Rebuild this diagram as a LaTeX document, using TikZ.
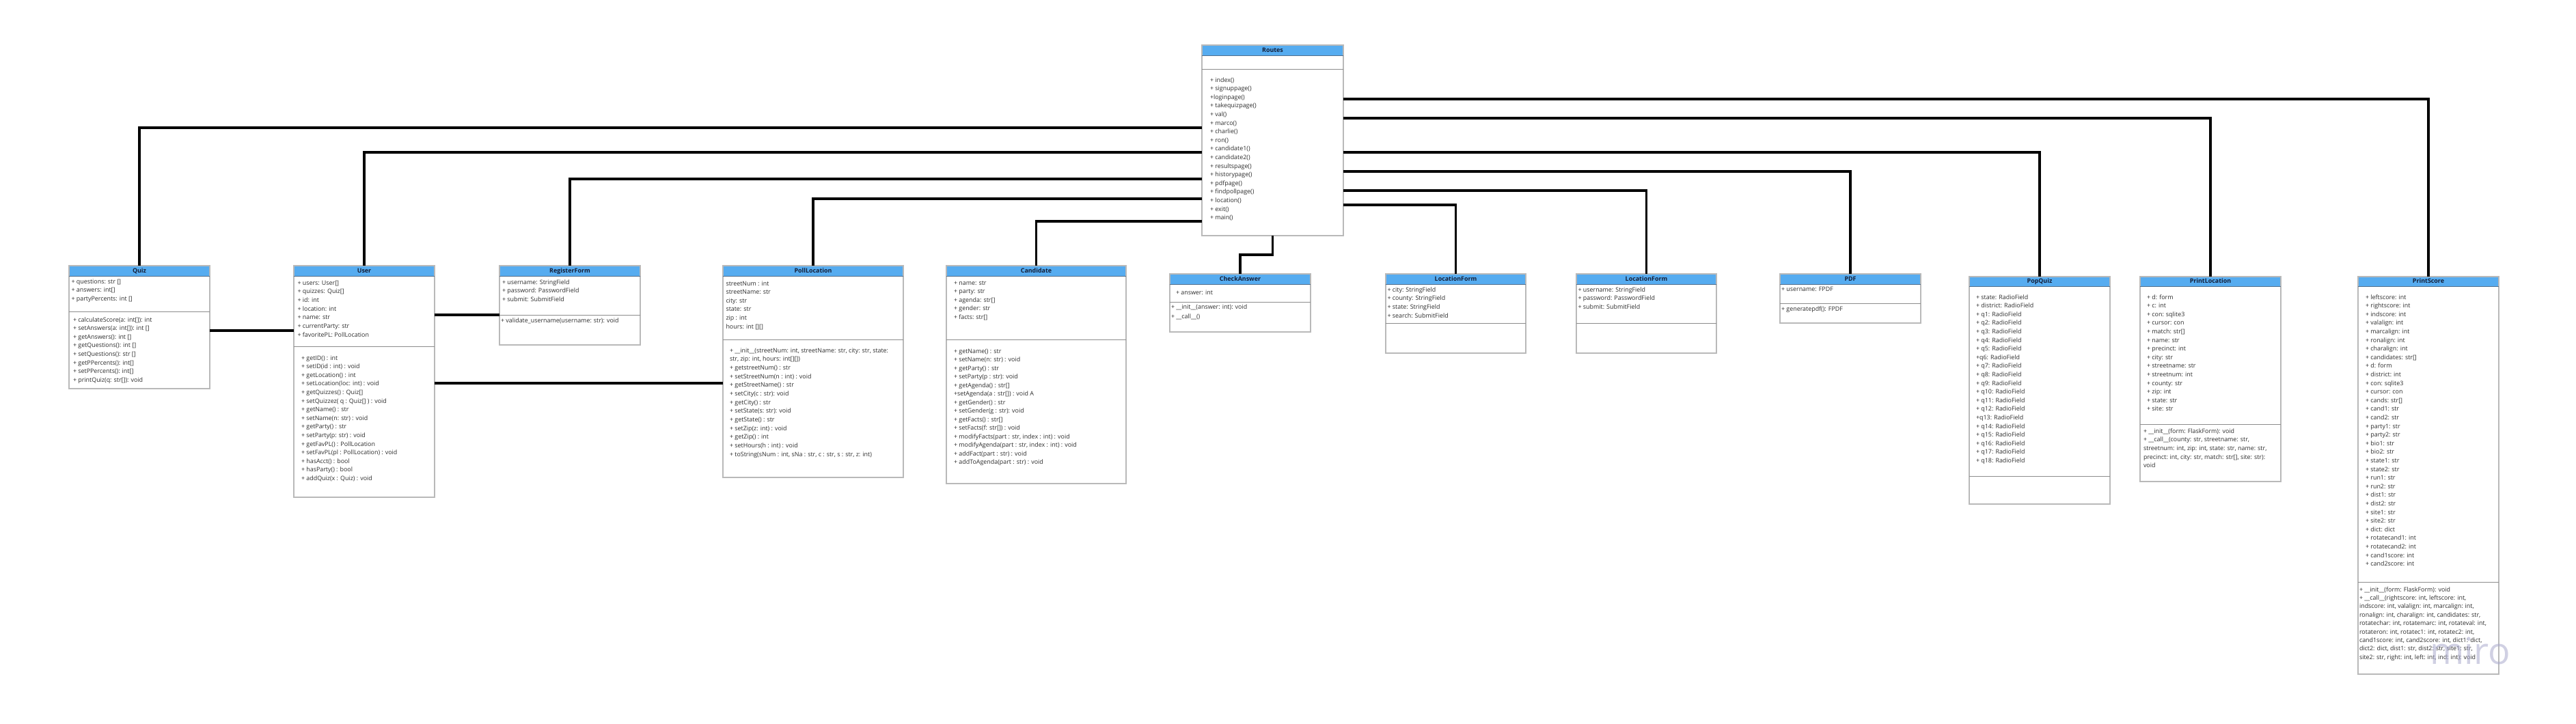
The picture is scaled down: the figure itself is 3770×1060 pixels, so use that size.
\documentclass[tikz,border=0pt]{standalone}
\usepackage{fontspec}
\setmainfont{Open Sans}
\usetikzlibrary{calc}
\definecolor{headblue}{RGB}{86,172,240}
\definecolor{headline}{RGB}{80,110,140}
\definecolor{boxline}{RGB}{185,185,185}
\definecolor{sepcol}{RGB}{140,140,140}
\definecolor{txtcol}{RGB}{45,45,45}
\definecolor{titlecol}{RGB}{20,30,55}
\definecolor{wmcol}{RGB}{170,170,205}
\tikzset{
  classbox/.style={draw=boxline, line width=1.3pt, inner sep=0pt, outer sep=0pt, rectangle},
  txt/.style={font=\fontsize{8.9}{10}\selectfont, text=txtcol, inner sep=0pt, outer sep=0pt},
  ttl/.style={font=\bfseries\fontsize{8.9}{10}\selectfont, text=titlecol, inner sep=0pt, outer sep=0pt},
  conn/.style={line width=3.5pt, black},
  sepl/.style={draw=sepcol, line width=1pt},
  headl/.style={draw=headline, line width=1pt},
}
% name, title, left, top, right, bottom, header bottom, separator
\newcommand\umlbox[8]{%
  \pgfmathsetmacro\bw{#5-#3}\pgfmathsetmacro\bh{#6-#4}%
  \fill[headblue] (#3,#4) rectangle (#5,#7);
  \node[classbox, minimum width=\bw pt, minimum height=\bh pt, anchor=north west] (#1) at (#3,#4) {};
  \draw[headl] (#3,#7) -- (#5,#7);
  \draw[sepl] (#3,#8) -- (#5,#8);
  \node[ttl, anchor=base] (#1-title) at ({(#3+#5)/2},{#7-4.5}) {#2};
}
% prefix, x, first baseline, step, list
\newcommand\umllines[5]{%
  \foreach \itm [count=\i from 0] in {#5}{\node[txt, anchor=base west] (#1-\i) at (#2,{#3+\i*#4}) {\itm};}%
}
\begin{document}
\begin{tikzpicture}[x=1pt, y=-1pt]
\fill[white] (0,0) rectangle (3770,1060);
\useasboundingbox (0,0) rectangle (3770,1060);

% Routes
\umlbox{routes}{Routes}{1759}{66}{1966}{345}{81}{101}
\umllines{routes-m}{1771}{120}{12.6}{{+ index()},{+ signuppage()},{+loginpage()},{+ takequizpage()},{+ val()},{+ marco()},{+ charlie()},{+ ron()},{+ candidate1()},{+ candidate2()},{+ resultspage()},{+ historypage()},{+ pdfpage()},{+ findpollpage()},{+ location()},{+ exit()},{+ main()}}

% Quiz
\umlbox{quiz}{Quiz}{101}{389}{307}{569}{404}{456}
\umllines{quiz-a}{104.5}{415}{12.7}{{+ questions: str []},{+ answers: int[]},{+ partyPercents: int []}}
\umllines{quiz-m}{107}{471}{12.6}{{+ calculateScore(a: int[]): int},{+ setAnswers(a: int[]): int []},{+ getAnswers(): int []},{+ getQuestions(): int []},{+ setQuestions(): str []},{+ getPPercents(): int[]},{+ setPPercents(): int[]},{+ printQuiz(q: str[]): void}}

% User
\umlbox{user}{User}{430}{389}{636}{728}{404}{507}
\umllines{user-a}{435.5}{417}{12.7}{{+ users: User[]},{+ quizzes: Quiz[]},{+ id: int},{+ location: int},{+ name: str},{+ currentParty: str},{+ favoritePL: PollLocation}}
\umllines{user-m}{441}{527}{12.6}{{+ getID() : int},{+ setID(id : int) : void},{+ getLocation() : int},{+ setLocation(loc: int) : void},{+ getQuizzes() : Quiz[]},{+ setQuizzez( q : Quiz[] ) : void},{+ getName() : str},{+ setName(n: str) : void},{+ getParty() : str},{+ setParty(p: str) : void},{+ getFavPL() : PollLocation},{+ setFavPL(pl : PollLocation) : void},{+ hasAcct() : bool},{+ hasParty() : bool},{+ addQuiz(x : Quiz) : void}}

% RegisterForm
\umlbox{reg}{RegisterForm}{731}{389}{937}{505}{404}{461}
\umllines{reg-a}{735}{416}{12.5}{{+ username: StringField},{+ password: PasswordField},{+ submit: SubmitField}}
\umllines{reg-m}{733}{472}{12.6}{{+ validate\_username(username: str): void}}

% PollLocation
\umlbox{poll}{PollLocation}{1058}{389}{1322}{699}{404}{497}
\umllines{poll-a}{1062.5}{418}{12.6}{{streetNum : int},{streetName: str},{city: str},{state: str},{zip : int},{hours: int [][]}}
\umllines{poll-m}{1068}{516}{12.67}{{+ \_\_init\_\_(streetNum: int, streetName: str, city: str, state:},{str, zip: int, hours: int[][])},{+ getstreetNum() : str},{+ setStreetNum(n : int) : void},{+ getStreetName() : str},{+ setCity(c : str): void},{+ getCity() : str},{+ setState(s: str): void},{+ getState() : str},{+ setZip(z: int) : void},{+ getZip() : int},{+ setHours(h : int) : void},{+ toString(sNum : int, sNa : str, c : str, s : str, z: int)}}

% Candidate
\umlbox{cand}{Candidate}{1385}{389}{1648}{708}{404}{497}
\umllines{cand-a}{1396}{417}{12.5}{{+ name: str},{+ party: str},{+ agenda: str[]},{+ gender: str},{+ facts: str[]}}
\umllines{cand-m}{1396}{517}{12.5}{{+ getName() : str},{+ setName(n: str) : void},{+ getParty() : str},{+ setParty(p : str): void},{+ getAgenda() : str[]},{+setAgenda(a : str[]) : void A},{+ getGender() : str},{+ setGender(g : str): void},{+ getFacts() : str[]},{+ setFacts(f: str[]) : void},{+ modifyFacts(part : str, index : int) : void},{+ modifyAgenda(part : str, index : int) : void},{+ addFact(part : str) : void},{+ addToAgenda(part : str) : void}}

% CheckAnswer
\umlbox{check}{CheckAnswer}{1712}{401}{1918}{486}{416}{442}
\umllines{check-a}{1721}{431}{12.6}{{+ answer: int}}
\umllines{check-m}{1714}{452}{14.8}{{+ \_\_init\_\_(answer: int): void},{+ \_\_call\_\_()}}

% LocationForm (1)
\umlbox{lfa}{LocationForm}{2028}{401}{2233}{517}{416}{473}
\umllines{lfa-a}{2030.5}{427}{12.7}{{+ city: StringField},{+ county: StringField},{+ state: StringField},{+ search: SubmitField}}

% LocationForm (2)
\umlbox{lfb}{LocationForm}{2307}{401}{2512}{517}{416}{473}
\umllines{lfb-a}{2309.5}{427}{12.7}{{+ username: StringField},{+ password: PasswordField},{+ submit: SubmitField}}

% PDF
\umlbox{pdf}{PDF}{2605}{401}{2811}{473}{416}{444}
\umllines{pdf-a}{2607}{426}{12.6}{{+ username: FPDF}}
\umllines{pdf-m}{2607}{455}{12.6}{{+ generatepdf(): FPDF}}

% PopQuiz
\umlbox{pop}{PopQuiz}{2882}{405}{3088}{738}{419}{697}
\umllines{pop-a}{2892}{438}{12.6}{{+ state: RadioField},{+ district: RadioField},{+ q1: RadioField},{+ q2: RadioField},{+ q3: RadioField},{+ q4: RadioField},{+ q5: RadioField},{+q6: RadioField},{+ q7: RadioField},{+ q8: RadioField},{+ q9: RadioField},{+ q10: RadioField},{+ q11: RadioField},{+ q12: RadioField},{+q13: RadioField},{+ q14: RadioField},{+ q15: RadioField},{+ q16: RadioField},{+ q17: RadioField},{+ q18: RadioField}}

% PrintLocation
\umlbox{ploc}{PrintLocation}{3132}{405}{3338}{705}{419}{621}
\umllines{ploc-a}{3142}{438}{12.6}{{+ d: form},{+ c: int},{+ con: sqlite3},{+ cursor: con},{+ match: str[]},{+ name: str},{+ precinct: int},{+ city: str},{+ streetname: str},{+ streetnum: int},{+ county: str},{+ zip: int},{+ state: str},{+ site: str}}
\umllines{ploc-m}{3137}{634}{12.7}{{+ \_\_init\_\_(form: FlaskForm): void},{+ \_\_call\_\_(county: str, streetname: str,},{streetnum: int, zip: int, state: str, name: str,},{precinct: int, city: str, match: str[], site: str):},{void}}

% PrintScore
\umlbox{pscore}{PrintScore}{3451}{405}{3657}{987}{419}{852}
\umllines{pscore-a}{3462}{438}{12.6}{{+ leftscore: int},{+ rightscore: int},{+ indscore: int},{+ valalign: int},{+ marcalign: int},{+ ronalign: int},{+ charalign: int},{+ candidates: str[]},{+ d: form},{+ district: int},{+ con: sqlite3},{+ cursor: con},{+ cands: str[]},{+ cand1: str},{+ cand2: str},{+ party1: str},{+ party2: str},{+ bio1: str},{+ bio2: str},{+ state1: str},{+ state2: str},{+ run1: str},{+ run2: str},{+ dist1: str},{+ dist2: str},{+ site1: str},{+ site2: str},{+ dict: dict},{+ rotatecand1: int},{+ rotatecand2: int},{+ cand1score: int},{+ cand2score: int}}
\umllines{pscore-m}{3453}{866}{12.4}{{+ \_\_init\_\_(form: FlaskForm): void},{+ \_\_call\_\_(rightscore: int, leftscore: int,},{indscore: int, valalign: int, marcalign: int,},{ronalign: int, charalign: int, candidates: str,},{rotatechar: int, rotatemarc: int, rotateval: int,},{rotateron: int, rotatec1: int, rotatec2: int,},{cand1score: int, cand2score: int, dict1: dict,},{dict2: dict, dist1: str, dist2: str, site1: str,},{site2: str, right: int, left: int, ind: int): void}}

% connectors from Routes (left side)
\draw[conn] (routes.west |- 0,187) -| (quiz.north);
\draw[conn] (routes.west |- 0,223) -| (user.north);
\draw[conn] (routes.west |- 0,262) -| (reg.north);
\draw[conn] (routes.west |- 0,291) -| (poll.north);
\draw[conn] (routes.west |- 0,324) -| (cand.north);
% connectors from Routes (right side)
\draw[conn] (routes.east |- 0,145) -| (pscore.north);
\draw[conn] (routes.east |- 0,173) -| (ploc.north);
\draw[conn] (routes.east |- 0,223) -| (pop.north);
\draw[conn] (routes.east |- 0,251) -| (pdf.north);
\draw[conn] (routes.east |- 0,279) -| (lfb.north);
\draw[conn] (routes.east |- 0,300) -| (lfa.north);
% bottom
\draw[conn] (routes.south) -- ++(0,28) -| (check.north);
% horizontal links
\draw[conn] (quiz.east |- 0,484) -- (user.west |- 0,484);
\draw[conn] (user.east |- 0,461) -- (reg.west |- 0,461);
\draw[conn] (user.east |- 0,561) -- (poll.west |- 0,561);

% watermark
\node[font=\fontsize{54}{54}\selectfont, text=wmcol, opacity=0.55, inner sep=0pt, anchor=base west] (miro) at (3556,972) {miro};
\end{tikzpicture}
\end{document}
